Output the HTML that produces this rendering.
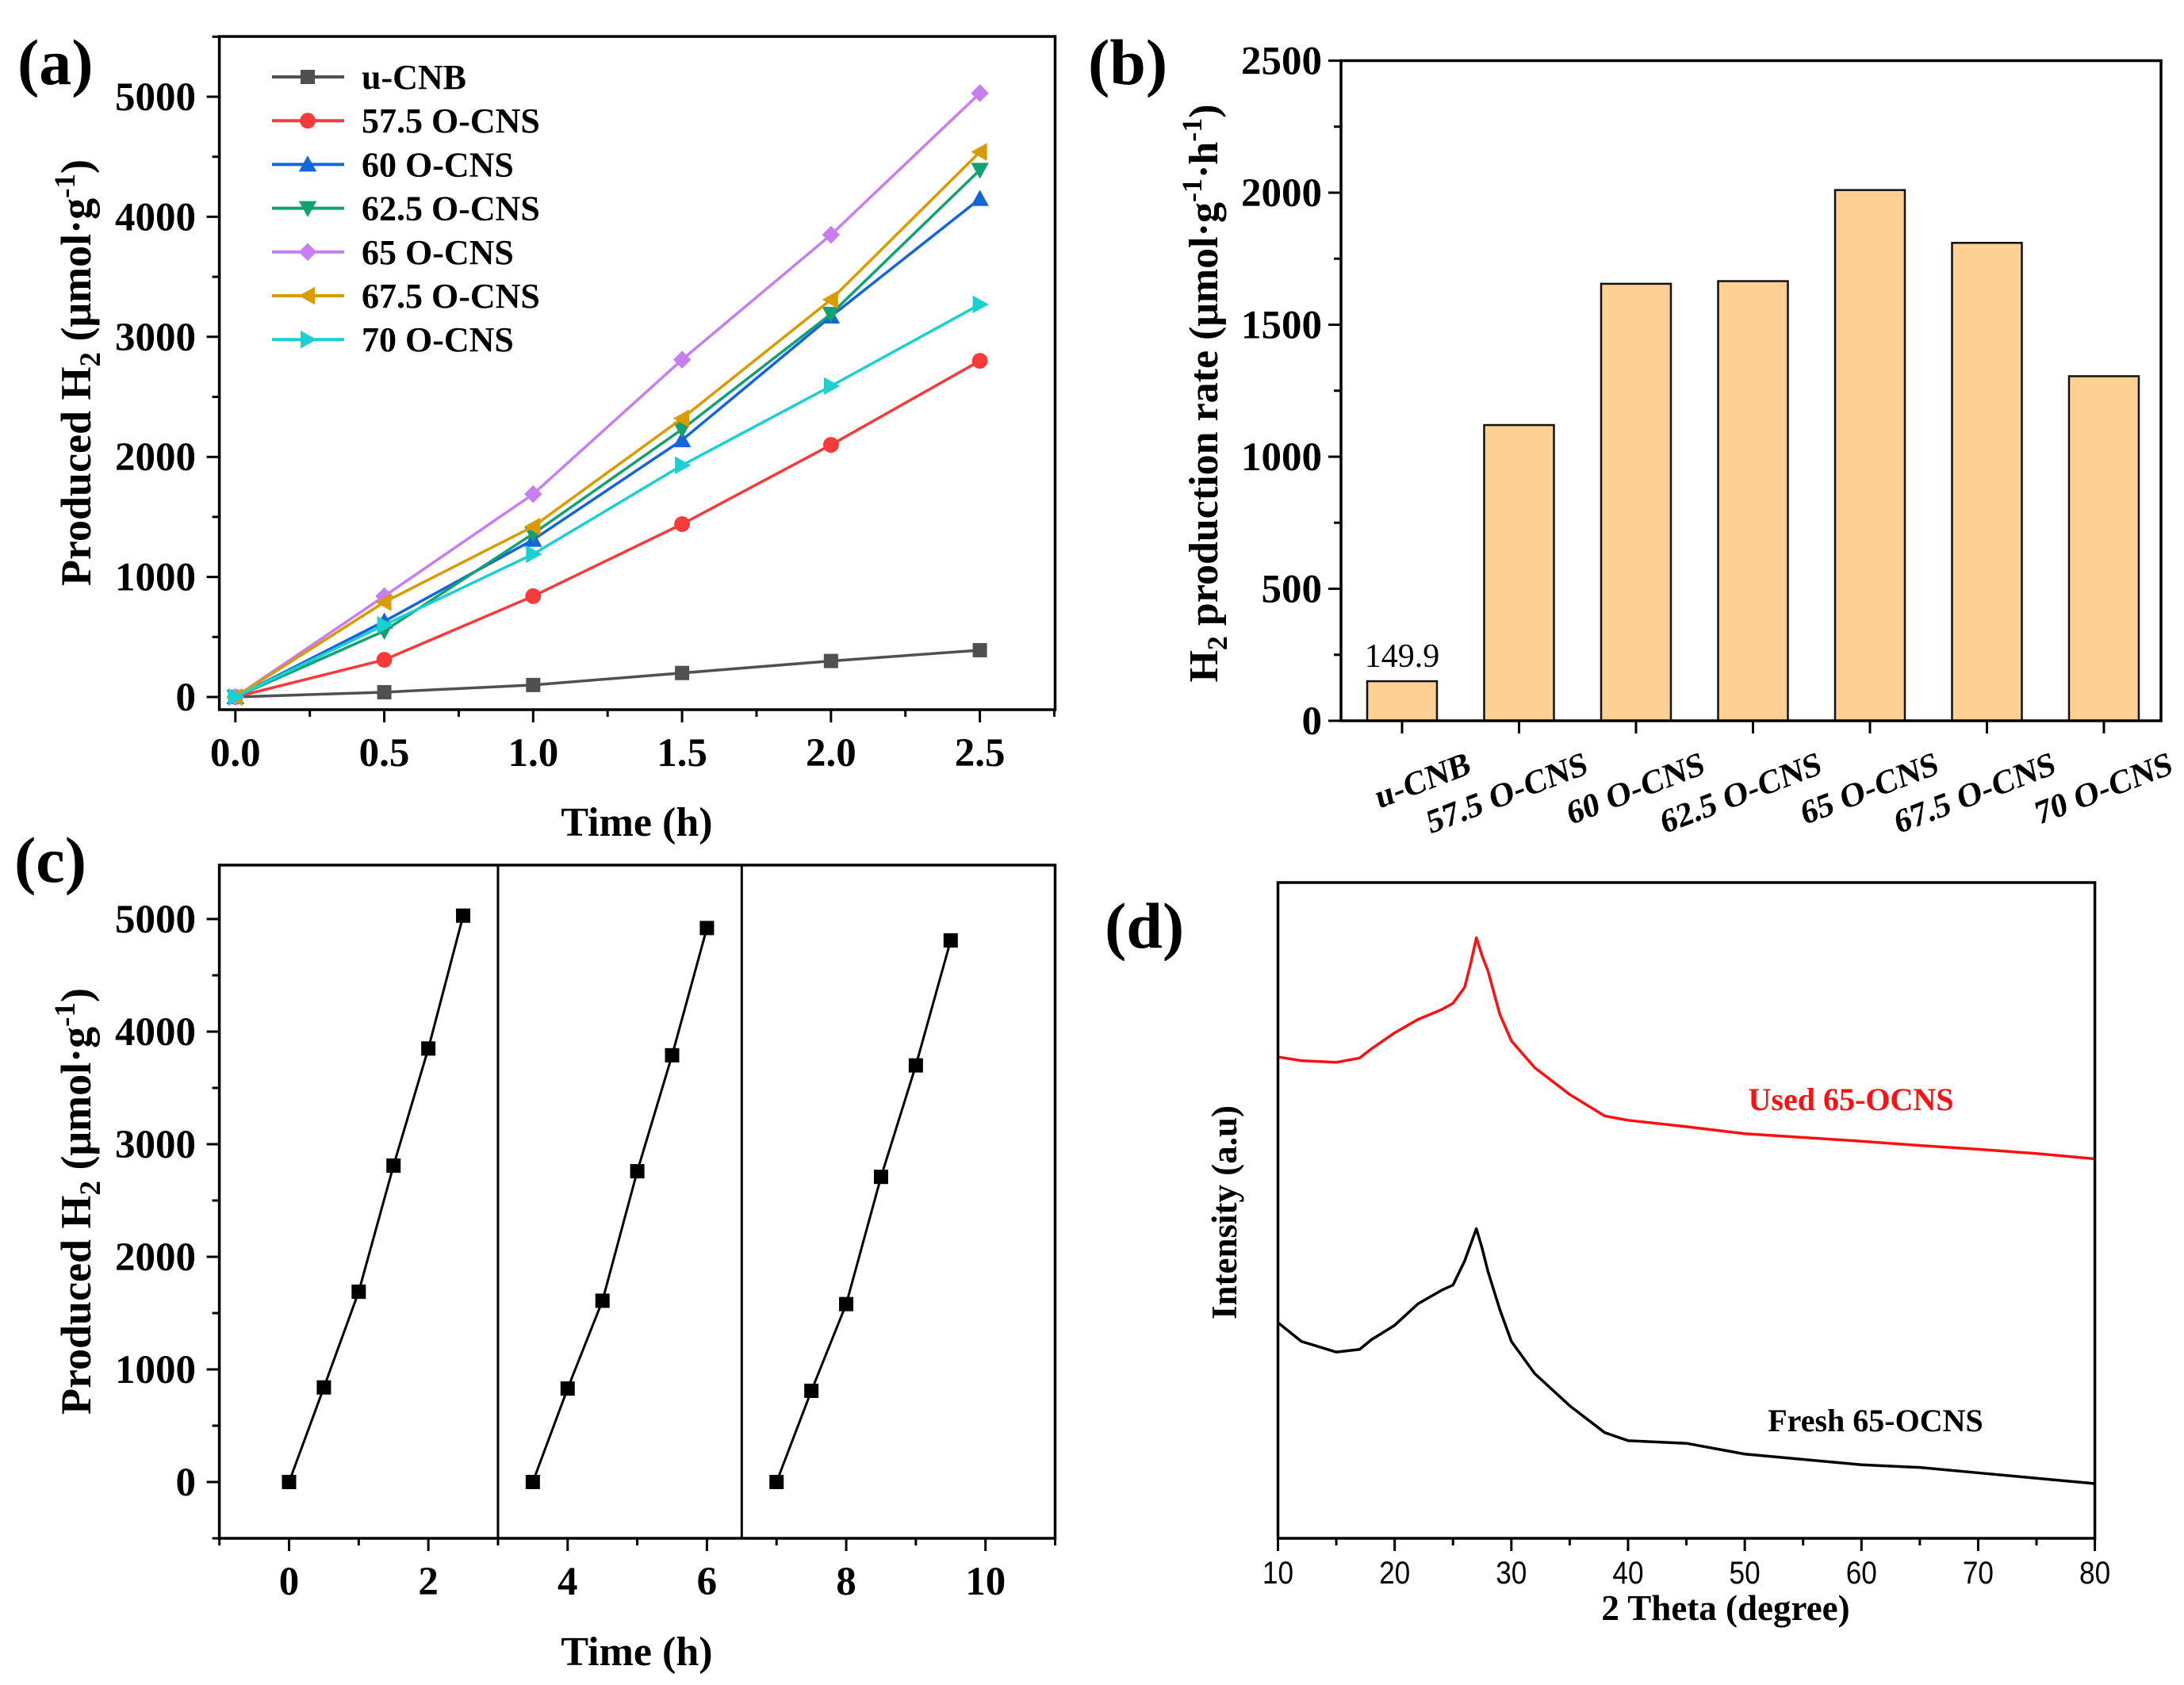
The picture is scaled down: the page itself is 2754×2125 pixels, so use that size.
<!DOCTYPE html>
<html><head><meta charset="utf-8"><style>
html,body{margin:0;padding:0;background:#fff;}
svg{display:block;}
text{font-family:"Liberation Serif",serif;}
text.sans{font-family:"Liberation Sans",sans-serif;}
</style></head><body>
<svg id="fig" width="2754" height="2125" viewBox="0 0 2754 2125" xmlns="http://www.w3.org/2000/svg">
<rect width="2754" height="2125" fill="#fff"/>
<g id="pa"></g>
<g id="pb"></g>
<g id="pc"></g>
<g id="pd"></g>
</svg>
<script>
// ---- Panel (a) data ----
const aTimes = [0, 0.5, 1.0, 1.5, 2.0, 2.5];
const aNames = ["u-CNB","57.5 O-CNS","60 O-CNS","62.5 O-CNS","65 O-CNS","67.5 O-CNS","70 O-CNS"];
const aUCNB = [0, 40, 100, 200, 300, 390];
const a575 = [0, 310, 840, 1440, 2100, 2800];
const a60 = [0, 630, 1310, 2140, 3170, 4150];
const a625 = [0, 550, 1360, 2230, 3190, 4390];
const a65 = [0, 840, 1690, 2810, 3850, 5030];
const a675 = [0, 790, 1420, 2320, 3310, 4540];
const a70 = [0, 600, 1190, 1930, 2590, 3270];
const aXTicks = [0.0, 0.5, 1.0, 1.5, 2.0, 2.5];
const aYTicks = [0, 1000, 2000, 3000, 4000, 5000];
// ---- Panel (b) data ----
const bCats = ["u-CNB","57.5 O-CNS","60 O-CNS","62.5 O-CNS","65 O-CNS","67.5 O-CNS","70 O-CNS"];
const bRates = [149.9, 1120, 1655, 1665, 2010, 1810, 1305];
const bYTicks = [0, 500, 1000, 1500, 2000, 2500];
// ---- Panel (c) data ----
const cT1 = [0, 0.5, 1, 1.5, 2, 2.5];
const cH1 = [0, 840, 1690, 2810, 3850, 5030];
const cT2 = [3.5, 4, 4.5, 5, 5.5, 6];
const cH2 = [0, 830, 1610, 2760, 3790, 4920];
const cT3 = [7, 7.5, 8, 8.5, 9, 9.5];
const cH3 = [0, 810, 1580, 2710, 3700, 4810];
const cDividers = [3, 6.5];
const cXTicks = [0, 2, 4, 6, 8, 10];
const cYTicks = [0, 1000, 2000, 3000, 4000, 5000];
// ---- Panel (d) data ----
const dTheta = [10,12,15,17,18,20,22,24,25,26,26.5,27,27.5,28,29,30,32,35,38,40,45,50,55,60,65,70,75,80];
const dUsed = [897,890,887,895,912,942,967,985,997,1027,1070,1119,1085,1057,977,927,877,827,787,779,767,754,747,740,732,725,717,707];
const dFresh = [402,367,347,352,370,397,437,462,472,517,547,577,540,497,427,367,307,247,197,182,177,157,147,137,132,122,112,102];
const dXTicks = [10,20,30,40,50,60,70,80];

const NS="http://www.w3.org/2000/svg";
function mk(parent, tag, attrs, txt){
  const e=document.createElementNS(NS,tag);
  for(const k in attrs) e.setAttribute(k,attrs[k]);
  if(txt!==undefined) e.textContent=txt;
  parent.appendChild(e); return e;
}
function lin(d0,d1,r0,r1){return v=>r0+(v-d0)*(r1-r0)/(d1-d0);}

function frame(g,L,T,R,B){
  const r=mk(g,'rect',{x:L,y:T,width:R-L,height:B-T,fill:'none',stroke:'#000','stroke-width':3.5});
  
  
}
function label(g,txt,x,y,name){
  const t=mk(g,'text',{x:x,y:y,'font-size':82,'font-weight':'bold'},txt);
  
  
}
function marker(g,shape,x,y,c,s){
  let e;
  if(shape==='square') e=mk(g,'rect',{x:x-s,y:y-s,width:2*s,height:2*s,fill:c});
  else if(shape==='circle') e=mk(g,'circle',{cx:x,cy:y,r:s*1.1,fill:c});
  else {
    let p;
    const k=s*1.25;
    if(shape==='up') p=[[x,y-k],[x+k,y+k*0.8],[x-k,y+k*0.8]];
    if(shape==='down') p=[[x,y+k],[x+k,y-k*0.8],[x-k,y-k*0.8]];
    if(shape==='left') p=[[x-k,y],[x+k*0.8,y-k],[x+k*0.8,y+k]];
    if(shape==='right') p=[[x+k,y],[x-k*0.8,y-k],[x-k*0.8,y+k]];
    if(shape==='diamond') p=[[x,y-k],[x+k,y],[x,y+k],[x-k,y]];
    e=mk(g,'polygon',{points:p.map(q=>q.join(',')).join(' '),fill:c});
  }
  
  
  return e;
}

// ================= Panel A =================
(function(){
  const g=document.getElementById('pa');
  const L=276.6,R=1330.5,T=46,B=895;
  const X=lin(0,2.5,296.8,1235.6), Y=lin(0,5000,879,122);
  frame(g,L,T,R,B);
  for(let v=0;v<=2.75;v+=0.25){const x=X(v); if(x<L||x>R)continue; const major=Math.abs(v*2-Math.round(v*2))<1e-6;
    const t=mk(g,'line',{x1:x,y1:B,x2:x,y2:B+(major?16:9),stroke:'#000','stroke-width':3});
     }
  for(let v=0;v<=5500;v+=500){const y=Y(v); const major=v%1000===0;
    const t=mk(g,'line',{x1:L,y1:y,x2:L-(major?16:9),y2:y,stroke:'#000','stroke-width':3});
     }
  aXTicks.forEach(v=>{const t=mk(g,'text',{x:X(v),y:966,'font-size':51,'font-weight':'bold','text-anchor':'middle'},v.toFixed(1));
     });
  aYTicks.forEach(v=>{const t=mk(g,'text',{x:247,y:Y(v)+17,'font-size':51,'font-weight':'bold','text-anchor':'end'},String(v));
     });
  const xt=mk(g,'text',{x:803,y:1054,'font-size':52,'font-weight':'bold','text-anchor':'middle'},'Time (h)');
   
  const yt=mk(g,'text',{x:0,y:0,'font-size':54,'font-weight':'bold','text-anchor':'middle',transform:'translate(114,470) rotate(-90)'});
   
  yt.innerHTML='Produced H<tspan font-size="37" dy="12">2</tspan><tspan dy="-12"> (μmol·g</tspan><tspan font-size="37" dy="-20">-1</tspan><tspan dy="20">)</tspan>';
  label(g,'(a)',22,106,'panel-label-a');
  const series=[aUCNB,a575,a60,a625,a65,a675,a70];
  const colors=['#505050','#F83A3A','#1464DC','#13A073','#C77EF0','#D99B00','#1AD0D0'];
  const shapes=['square','circle','up','down','diamond','left','right'];
  series.forEach((s,i)=>{
    const sg=mk(g,'g',{});  
    const pl=mk(sg,'polyline',{points:aTimes.map((t,j)=>X(t)+','+Y(s[j])).join(' '),fill:'none',stroke:colors[i],'stroke-width':3.5});
     
    aTimes.forEach((t,j)=>marker(sg,shapes[i],X(t),Y(s[j]),colors[i],9));
  });
  const lg=mk(g,'g',{});  
  aNames.forEach((n,i)=>{
    const y=97+i*55.2;
    const e=mk(lg,'g',{});  
    mk(e,'line',{x1:343,y1:y,x2:434,y2:y,stroke:colors[i],'stroke-width':4});
    marker(e,shapes[i],388,y,colors[i],9);
    const t=mk(e,'text',{x:456,y:y+15,'font-size':44,'font-weight':'bold'},n);
     
  });
})();

// ================= Panel B =================
(function(){
  const g=document.getElementById('pb');
  const L=1691,R=2725,T=76.5,B=909;
  const Y=lin(0,2500,909,76.5);
  const X=i=>1768+i*147.5;
  bCats.forEach((c,i)=>{
    const r=mk(g,'rect',{x:X(i)-44,y:Y(bRates[i]),width:88,height:B-Y(bRates[i]),fill:'#FED093',stroke:'#111','stroke-width':2.5});
     
  });
  frame(g,L,T,R,B);
  bCats.forEach((c,i)=>{
    const t=mk(g,'line',{x1:X(i),y1:B,x2:X(i),y2:B+16,stroke:'#000','stroke-width':3});
     
    const lb=mk(g,'text',{x:0,y:0,'font-size':42,'font-weight':'bold','text-anchor':'end',transform:`translate(${X(i)+88},${975}) rotate(-21) skewX(-8)`},c);
     
  });
  for(let v=0;v<=2500;v+=250){const major=v%500===0;
    const t=mk(g,'line',{x1:L,y1:Y(v),x2:L-(major?16:9),y2:Y(v),stroke:'#000','stroke-width':3});
     }
  bYTicks.forEach(v=>{const t=mk(g,'text',{x:1667,y:Y(v)+17,'font-size':51,'font-weight':'bold','text-anchor':'end'},String(v));
     });
  const vl=mk(g,'text',{x:X(0),y:Y(bRates[0])-18,'font-size':42,'text-anchor':'middle'},bRates[0].toFixed(1));
   
  const yt=mk(g,'text',{x:0,y:0,'font-size':52,'font-weight':'bold','text-anchor':'middle',transform:'translate(1535,496) rotate(-90)'});
   
  yt.innerHTML='H<tspan font-size="36" dy="12">2</tspan><tspan dy="-12"> production rate (μmol·g</tspan><tspan font-size="36" dy="-20">-1</tspan><tspan dy="20">·h</tspan><tspan font-size="36" dy="-20">-1</tspan><tspan dy="20">)</tspan>';
  label(g,'(b)',1372,106,'panel-label-b');
})();

// ================= Panel C =================
(function(){
  const g=document.getElementById('pc');
  const L=276.6,R=1330.5,T=1091,B=1940;
  const X=lin(0,10,364.5,1242.7), Y=lin(0,5000,1869,1159);
  frame(g,L,T,R,B);
  cDividers.forEach(v=>{const l=mk(g,'line',{x1:X(v),y1:T,x2:X(v),y2:B,stroke:'#000','stroke-width':3});
     });
  for(let v=-1;v<=11;v+=1){const major=v%2===0;
    const t=mk(g,'line',{x1:X(v),y1:B,x2:X(v),y2:B+(major?16:9),stroke:'#000','stroke-width':3});
     }
  for(let v=-500;v<=5500;v+=500){const y=Y(v); if(y<T||y>B)continue; const major=v%1000===0;
    const t=mk(g,'line',{x1:L,y1:y,x2:L-(major?16:9),y2:y,stroke:'#000','stroke-width':3});
     }
  cXTicks.forEach(v=>{const t=mk(g,'text',{x:X(v),y:2011,'font-size':51,'font-weight':'bold','text-anchor':'middle'},String(v));
     });
  cYTicks.forEach(v=>{const t=mk(g,'text',{x:247,y:Y(v)+17,'font-size':51,'font-weight':'bold','text-anchor':'end'},String(v));
     });
  const xt=mk(g,'text',{x:803,y:2100,'font-size':52,'font-weight':'bold','text-anchor':'middle'},'Time (h)');
   
  const yt=mk(g,'text',{x:0,y:0,'font-size':54,'font-weight':'bold','text-anchor':'middle',transform:'translate(114,1515) rotate(-90)'});
   
  yt.innerHTML='Produced H<tspan font-size="37" dy="12">2</tspan><tspan dy="-12"> (μmol·g</tspan><tspan font-size="37" dy="-20">-1</tspan><tspan dy="20">)</tspan>';
  label(g,'(c)',18,1112,'panel-label-c');
  [[cT1,cH1],[cT2,cH2],[cT3,cH3]].forEach((s,k)=>{
    const sg=mk(g,'g',{});  
    const pl=mk(sg,'polyline',{points:s[0].map((t,j)=>X(t)+','+Y(s[1][j])).join(' '),fill:'none',stroke:'#000','stroke-width':3});
     
    s[0].forEach((t,j)=>marker(sg,'square',X(t),Y(s[1][j]),'#000',9));
  });
})();

// ================= Panel D =================
(function(){
  const g=document.getElementById('pd');
  const L=1611.5,R=2641.6,T=1113,B=1940;
  const X=lin(10,80,L,R), Y=lin(0,1222,1940,1113);
  const u=mk(g,'polyline',{points:dTheta.map((t,j)=>X(t)+','+Y(dUsed[j])).join(' '),fill:'none',stroke:'#FF1010','stroke-width':3.5,'stroke-linejoin':'round'});
   
  const f=mk(g,'polyline',{points:dTheta.map((t,j)=>X(t)+','+Y(dFresh[j])).join(' '),fill:'none',stroke:'#000','stroke-width':3.5,'stroke-linejoin':'round'});
   
  frame(g,L,T,R,B);
  for(let v=10;v<=80;v+=5){const major=v%10===0;
    const t=mk(g,'line',{x1:X(v),y1:B,x2:X(v),y2:B+(major?16:9),stroke:'#000','stroke-width':3});
     }
  dXTicks.forEach(v=>{const t=mk(g,'text',{class:'sans',x:X(v),y:1997,'font-size':40,'text-anchor':'middle',transform:`translate(${X(v)},0) scale(0.88,1) translate(${-X(v)},0)`},String(v));
     });
  const xt=mk(g,'text',{x:2176,y:2043,'font-size':45,'font-weight':'bold','text-anchor':'middle'},'2 Theta (degree)');
   
  const yt=mk(g,'text',{x:0,y:0,'font-size':45,'font-weight':'bold','text-anchor':'middle',transform:'translate(1559,1529) rotate(-90)'},'Intensity (a.u)');
   
  const ul=mk(g,'text',{x:2334,y:1400,'font-size':40,'font-weight':'bold','text-anchor':'middle',fill:'#FF1010'},'Used 65-OCNS');
   
  const fl=mk(g,'text',{x:2365,y:1805,'font-size':40,'font-weight':'bold','text-anchor':'middle'},'Fresh 65-OCNS');
   
  label(g,'(d)',1393,1195,'panel-label-d');
})();
</script>
</body></html>
